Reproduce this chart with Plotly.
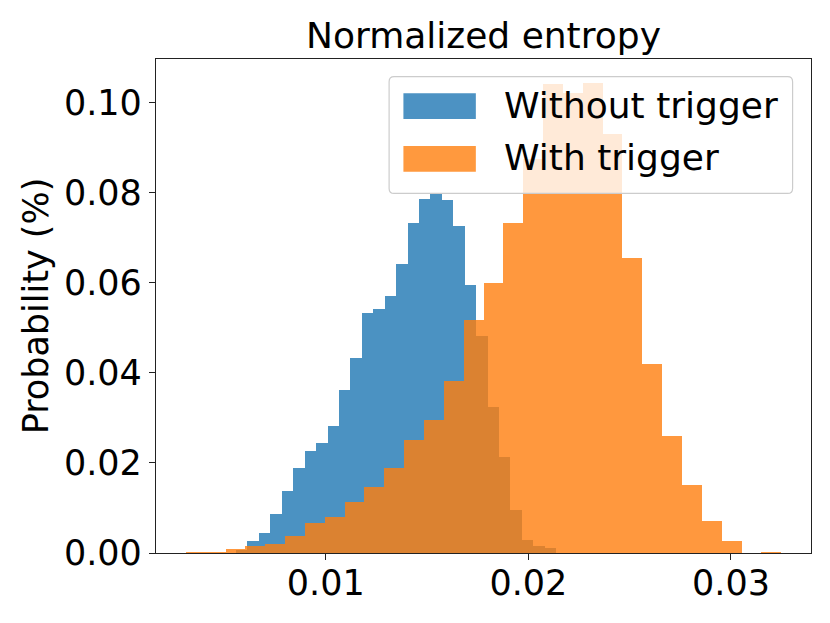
import numpy as np
import plotly.graph_objects as go

# Histogram values (probability per bin) --------------------------------------
without_trigger = [0.0007, 0.0026, 0.0044, 0.0086, 0.0138, 0.0188, 0.0227,
                   0.0244, 0.0283, 0.0363, 0.0432, 0.0534, 0.0541, 0.0571,
                   0.0642, 0.0733, 0.0786, 0.0800, 0.0785, 0.0726, 0.0596,
                   0.0482, 0.0324, 0.0213, 0.0095, 0.0028, 0.0016, 0.0011]
with_trigger = [0.0002, 0.0002, 0.0009, 0.0015, 0.0020, 0.0037, 0.0067,
                0.0079, 0.0114, 0.0146, 0.0189, 0.0252, 0.0295, 0.0381,
                0.0518, 0.0599, 0.0733, 0.0876, 0.1042, 0.1021, 0.1044,
                0.0930, 0.0654, 0.0419, 0.0260, 0.0152, 0.0071, 0.0027,
                0.0000, 0.0002]

# bin ranges (equal width bins, like plt.hist)
without_range = [0.00557, 0.021373]
with_range = [0.003091, 0.032479]

x_ticks = [0.01, 0.02, 0.03]
y_ticks = [0.00, 0.02, 0.04, 0.06, 0.08, 0.10]
series_names = ["Without trigger", "With trigger"]

# Parameters -------------------------------------------------------------------
colour_blue = '#1f77b4'
colour_orange = '#ff7f0e'
axis_colour = '#222222'
font_family = 'DejaVu Sans'
font_size = 35

# page body has an 8px margin, so the figure is shrunk to fit the window
offset = 8
W, H = 830 - offset, 623 - offset
# plot area in window pixels
plot_l, plot_r, plot_t, plot_b = 156, 810.7, 59, 552.7


def px_x(px):
    return (px - plot_l) / (plot_r - plot_l)


def px_y(py):
    return (plot_b - py) / (plot_b - plot_t)


def hist_bar(values, rng, colour, name):
    edges = np.linspace(rng[0], rng[1], len(values) + 1)
    return go.Bar(
        x=(edges[:-1] + edges[1:]) / 2, y=values, width=np.diff(edges),
        marker=dict(color=colour, line=dict(width=0)),
        opacity=0.8, name=name, showlegend=False)


fig = go.Figure()
fig.add_trace(hist_bar(without_trigger, without_range, colour_blue, series_names[0]))
fig.add_trace(hist_bar(with_trigger, with_range, colour_orange, series_names[1]))

axis_common = dict(
    showline=True, mirror=True, linecolor=axis_colour, linewidth=1.3,
    ticks='outside', ticklen=6, tickwidth=1.3, tickcolor=axis_colour,
    showgrid=False, zeroline=False,
    tickfont=dict(family=font_family, size=font_size, color='black'),
)

fig.update_layout(
    width=W, height=H,
    margin=dict(l=plot_l - offset, r=830 - plot_r,
                t=plot_t - offset, b=623 - plot_b, pad=0),
    paper_bgcolor='white', plot_bgcolor='white',
    barmode='overlay', bargap=0,
    font=dict(family=font_family, size=font_size, color='black'),
    title=dict(text="Normalized entropy", x=0.5, xanchor='center',
               xref='paper', yref='paper', y=1, yanchor='bottom',
               pad=dict(b=11),
               font=dict(family=font_family, size=36, color='black')),
    xaxis=dict(range=[0.00162, 0.03395], tickvals=x_ticks,
               ticktext=["%.2f" % v for v in x_ticks],
               ticklabelstandoff=-7, **axis_common),
    yaxis=dict(range=[0, 0.1097], tickvals=y_ticks,
               ticktext=["%.2f" % v for v in y_ticks],
               title=dict(text="Probability (%)", standoff=4,
                          font=dict(family=font_family, size=font_size)),
               **axis_common),
    showlegend=False,
)

# Legend drawn by hand (matplotlib style box with wide patches) ----------------
box_l, box_r, box_t, box_b, rad = 389, 792.3, 76.7, 193.3, 5
x0, x1 = px_x(box_l), px_x(box_r)
y0, y1 = px_y(box_b), px_y(box_t)
rx, ry = px_x(plot_l + rad), px_y(plot_b - rad)
path = (f"M {x0 + rx},{y0} L {x1 - rx},{y0} Q {x1},{y0} {x1},{y0 + ry} "
        f"L {x1},{y1 - ry} Q {x1},{y1} {x1 - rx},{y1} "
        f"L {x0 + rx},{y1} Q {x0},{y1} {x0},{y1 - ry} "
        f"L {x0},{y0 + ry} Q {x0},{y0} {x0 + rx},{y0} Z")
fig.add_shape(type='path', path=path, xref='paper', yref='paper',
              fillcolor='rgba(255,255,255,0.8)',
              line=dict(color='#cccccc', width=1.2), layer='above')

patch_rows = [(93.3, 119.0), (146.0, 171.7)]
for (top, bot), colour, name in zip(patch_rows, [colour_blue, colour_orange], series_names):
    fig.add_shape(type='rect', xref='paper', yref='paper',
                  x0=px_x(403.3), x1=px_x(475.7), y0=px_y(bot), y1=px_y(top),
                  fillcolor=colour, opacity=0.8, line=dict(width=0), layer='above')
    fig.add_annotation(text=name, xref='paper', yref='paper',
                       x=px_x(502), y=px_y((top + bot) / 2 - 1),
                       xanchor='left', yanchor='middle', showarrow=False,
                       font=dict(family=font_family, size=36, color='black'))

fig.write_html("out.html")
